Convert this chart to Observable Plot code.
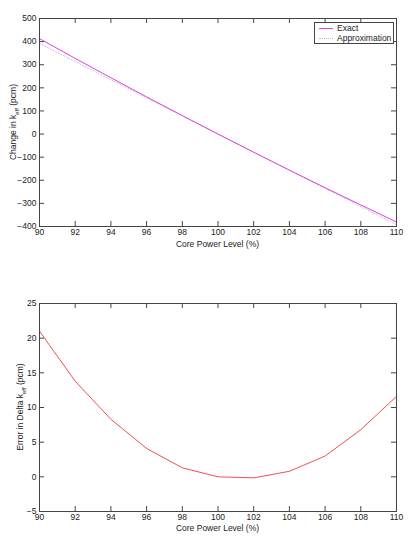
<!DOCTYPE html>
<html><head><meta charset="utf-8">
<script src="https://cdn.jsdelivr.net/npm/d3@7"></script>
<script src="https://cdn.jsdelivr.net/npm/@observablehq/plot@0.6"></script>
<style>
html,body{margin:0;padding:0;background:#fff;}
#wrap{position:relative;width:417px;height:539px;}
#legend{position:absolute;left:314px;top:22px;width:78px;height:20px;border:1px solid #444;background:#fff;font:8.5px "Liberation Sans",Arial,sans-serif;color:#222;}
#legend div{position:relative;height:10px;line-height:10px;padding-left:22px;white-space:nowrap;}
#legend span{position:absolute;left:4px;top:5px;width:14px;height:0;}
</style></head>
<body><div id="wrap"><div id="legend"><div><span style="border-top:1px solid #e040e0"></span>Exact</div><div><span style="border-top:1px dotted #c4b6d2"></span>Approximation</div></div></div>
<script>
const power = [90, 92, 94, 96, 98, 100, 102, 104, 106, 108, 110];
const exact = [413, 327.4, 243.5, 160.9, 79.7, 0, -78.6, -156, -232.2, -306.8, -380.4];
const approx = [392, 313.6, 235.2, 156.8, 78.4, 0, -78.4, -156.8, -235.2, -313.6, -392];
const errorVals = [21, 13.8, 8.3, 4.1, 1.3, 0, -0.15, 0.8, 3.0, 6.8, 11.6];
const xTicks = [90, 92, 94, 96, 98, 100, 102, 104, 106, 108, 110];
const yTicksTop = [-400, -300, -200, -100, 0, 100, 200, 300, 400, 500];
const yTicksBot = [-5, 0, 5, 10, 15, 20, 25];

const W = 417, ML = 39, MR = 21;
const FS = 8.5;
const font = "'Liberation Sans', Arial, sans-serif";
const minus = d => d < 0 ? "\u2212" + Math.abs(d) : String(d);

function frameMarks(yTicks, plotH) {
  const plotW = W - ML - MR;
  return [
    Plot.tickX(xTicks, {x: d => d, insetTop: plotH - 5, stroke: "#444"}),
    Plot.tickX(xTicks, {x: d => d, insetBottom: plotH - 5, stroke: "#444"}),
    Plot.tickY(yTicks, {y: d => d, insetRight: plotW - 5, stroke: "#444"}),
    Plot.tickY(yTicks, {y: d => d, insetLeft: plotW - 5, stroke: "#444"}),
    Plot.axisX(xTicks, {tickSize: 0, tickPadding: 2, label: null, fontSize: FS}),
    Plot.axisY(yTicks, {tickSize: 0, tickPadding: 3, label: null, tickFormat: minus, fontSize: FS}),
    Plot.frame({stroke: "#444"})
  ];
}

const rows = power.map((p, i) => ({p, exact: exact[i], approx: approx[i], err: errorVals[i]}));

const H1 = 270, MT1 = 18, MB1 = 44;
const chartTop = Plot.plot({
  width: W, height: H1, marginLeft: ML, marginRight: MR, marginTop: MT1, marginBottom: MB1,
  style: {fontFamily: font, fontSize: FS + "px", color: "#222", background: "#fff"},
  x: {domain: [90, 110]}, y: {domain: [-400, 500]},
  marks: [
    Plot.line(rows, {x: "p", y: "approx", stroke: "#c4b6d2", strokeWidth: 1, strokeDasharray: "1,2"}),
    Plot.line(rows, {x: "p", y: "exact", stroke: "#e040e0", strokeWidth: 1}),
    ...frameMarks(yTicksTop, H1 - MT1 - MB1)
  ]
});

const H2 = 269, MT2 = 33, MB2 = 28;
const chartBot = Plot.plot({
  width: W, height: H2, marginLeft: ML, marginRight: MR, marginTop: MT2, marginBottom: MB2,
  style: {fontFamily: font, fontSize: FS + "px", color: "#222", background: "#fff"},
  x: {domain: [90, 110]}, y: {domain: [-5, 25]},
  marks: [
    Plot.line(rows, {x: "p", y: "err", stroke: "#f05050", strokeWidth: 1}),
    ...frameMarks(yTicksBot, H2 - MT2 - MB2)
  ]
});

function addLabels(svg, xLabelY, yLabelX, yLabelY, pre, post) {
  const s = d3.select(svg);
  s.append("text").attr("x", ML + (W - ML - MR) / 2).attr("y", xLabelY)
    .attr("text-anchor", "middle").attr("font-size", FS).attr("fill", "#222").attr("font-family", font)
    .text("Core Power Level (%)");
  const t = s.append("text").attr("transform", `translate(${yLabelX},${yLabelY}) rotate(-90)`)
    .attr("text-anchor", "middle").attr("font-size", FS).attr("fill", "#222").attr("font-family", font);
  t.append("tspan").text(pre);
  t.append("tspan").attr("font-size", 6).attr("dy", 2.5).text("eff");
  t.append("tspan").attr("dy", -2.5).text(post);
}
addLabels(chartTop, 247, 16, (MT1 + H1 - MB1) / 2, "Change in k", " (pcm)");
addLabels(chartBot, 261, 23, (MT2 + H2 - MB2) / 2, "Error in Delta k", " (pcm)");

const wrap = document.getElementById("wrap");
chartTop.style.display = "block"; chartBot.style.display = "block";
wrap.insertBefore(chartBot, wrap.firstChild);
wrap.insertBefore(chartTop, wrap.firstChild);
</script></body></html>
